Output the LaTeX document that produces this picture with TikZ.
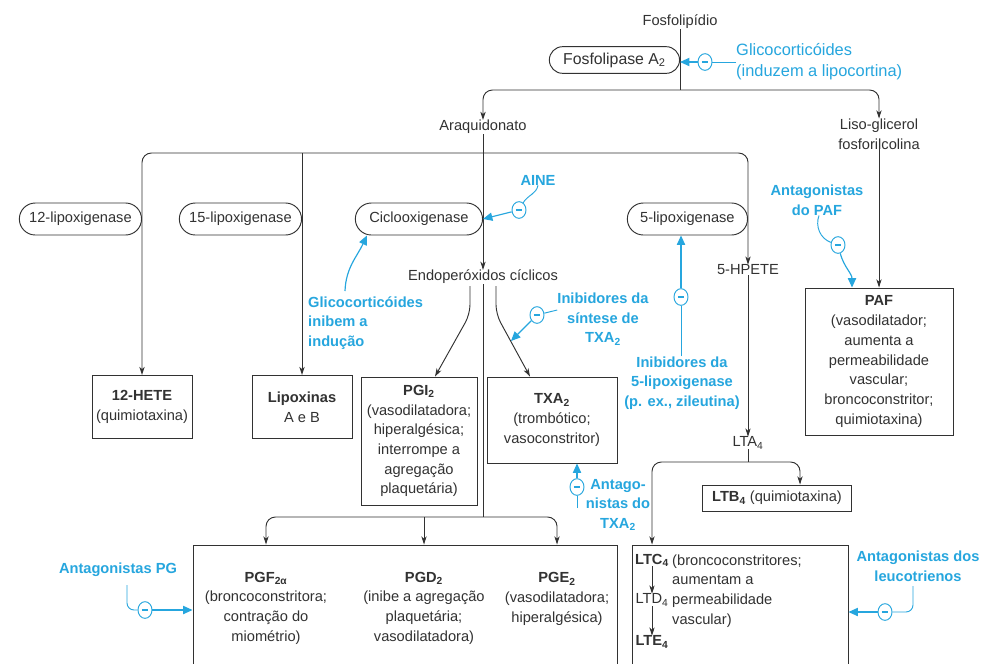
\documentclass[tikz,border=0pt]{standalone}
\usepackage{fontspec}
\setmainfont{Liberation Sans}
\usetikzlibrary{positioning, arrows.meta, calc, shapes.misc, shapes.geometric}
\definecolor{azul}{RGB}{38,166,222}
\definecolor{traco}{RGB}{50,50,50}
\newcommand{\fonte}{\fontsize{12.5}{16.8}\selectfont}

\begin{document}
\begin{tikzpicture}[
  x=0.03cm, y=-0.03cm,
  >={Stealth[length=7pt, width=4.5pt, inset=2pt]},
  txt/.style={font=\fonte, text=traco, inner sep=0pt, align=center},
  enz/.style={rounded rectangle, draw=traco, line width=0.8pt, font=\fonte,
    text=traco, minimum width=3.9cm, minimum height=0.96cm, anchor=east},
  caixa/.style={rectangle, draw=traco, line width=0.8pt, font=\fonte,
    text=traco, align=center, inner sep=0pt},
  lig/.style={->, draw=traco, line width=0.8pt},
  ramo/.style={<->, draw=traco, line width=0.8pt, rounded corners=8},
  fio/.style={draw=azul, line width=0.8pt},
  inibe/.style={-{Triangle[length=8pt, width=7pt]}, draw=azul, line width=1pt},
  azultxt/.style={font=\fonte\bfseries, text=azul, inner sep=0pt, align=center},
  sinal/.style={ellipse, draw=azul, line width=0.8pt, fill=white,
    minimum width=0.42cm, minimum height=0.5cm, inner sep=0pt,
    path picture={\draw[azul, line width=0.9pt]
      ([xshift=-2.6pt]path picture bounding box.center) --
      ([xshift=2.6pt]path picture bounding box.center);}},
]
\useasboundingbox (0,0) rectangle (984,663);
\fill[white] (0,0) rectangle (984,663);
\clip (0,0) rectangle (984,663);

% --- Fosfolipidio ---
\node[txt] (fosfo) at (680,22) {Fosfolipídio};
\node[enz, minimum width=4.14cm, minimum height=0.8cm,
  font=\fontsize{13.5}{16}\selectfont] (fla) at (680,60) {Fosfolipase A\textsubscript{2}};
\coordinate (topo) at (680,90);
\draw[traco, line width=0.8pt] (fosfo.south) -- (topo);

\node[sinal] (s1) at (705,62) {};
\node[txt, text=azul, anchor=west, align=left,
  font=\fontsize{14}{18}\selectfont] (glc) at (736,62)
  {Glicocorticóides\\(induzem a lipocortina)};
\draw[fio] (glc.west) -- (s1);
\draw[inibe] (s1) -- (s1 -| fla.east);

\node[txt] (araq) at (483,127) {Araquidonato};
\node[txt] (liso) at (879,134) {Liso-glicerol\\fosforilcolina};
\draw[ramo] (araq.north) |- (topo) -| (liso.north);

% --- Enzimas ---
\coordinate (ramo1) at (483,153);
\node[enz] (l12) at (142,219) {12-lipoxigenase};
\node[enz] (l15) at (302,219) {15-lipoxigenase};
\node[enz, minimum width=4.05cm] (cox) at (483,219) {Ciclooxigenase};
\node[enz, minimum width=3.84cm] (l5) at (748,219) {5-lipoxigenase};

\node[txt] (endo) at (483,277) {Endoperóxidos cíclicos};
\node[txt] (hpete) at (748,270) {5-HPETE};

\node[caixa, minimum width=3cm, minimum height=1.89cm] (hete) at (142,407)
  {\textbf{12-HETE}\\(quimiotaxina)};
\node[caixa, minimum width=3cm, minimum height=1.89cm] (lipox) at (302,407)
  {\textbf{Lipoxinas}\\A e B};

\draw[ramo] (hete.north) |- (ramo1) -| (hpete.north);
\draw[lig] (lipox.north |- ramo1) -- (lipox.north);
\draw[lig] (araq.south) -- (endo.north);

% AINE
\node[azultxt] (aine) at (538,180) {AINE};
\node[sinal] (s2) at (519,210) {};
\draw[fio] (aine.south) to[out=-100,in=60] (s2);
\draw[inibe] (s2) -- (cox.east);

% glicocorticoides na inducao
\node[azultxt, anchor=west, align=left] (gci) at (308,323)
  {Glicocorticóides\\inibem a\\indução};
\coordinate (gc0) at (345,291);
\draw[inibe] (gc0) to[out=88,in=-115] ($(cox.south)+(-52,0)$);

% --- Endoperoxidos ---
\node[caixa, minimum width=3.48cm, minimum height=3.84cm] (pgi) at (419,441)
  {\textbf{PGI\textsubscript{2}}\\(vasodilatadora;\\hiperalgésica;\\interrompe a\\agregação\\plaquetária)};
\node[caixa, minimum width=3.9cm, minimum height=2.58cm] (txa) at (552,420)
  {\textbf{TXA\textsubscript{2}}\\(trombótico;\\vasoconstritor)};
\draw[lig, rounded corners=8] ($(endo.south)+(-13,2)$) -- ++(0,28) -- ($(pgi.north)+(16,0)$);
\draw[lig, rounded corners=8] ($(endo.south)+(13,2)$) -- ++(0,28) -- ($(txa.north)+(-22,0)$);

\node[azultxt] (ist) at (603,319) {Inibidores da\\síntese de\\TXA\textsubscript{2}};
\node[sinal] (s3) at (537,315) {};
\coordinate (tx0) at (511,341);
\draw[fio] ($(ist.west)+(0,-9)$) -- (s3);
\draw[inibe] (s3) -- (tx0);

% --- 5-lipoxigenase ---
\node[azultxt] (ili) at (682,383) {Inibidores da\\5-lipoxigenase\\(p. ex., zileutina)};
\node[sinal] (s4) at (681,297) {};
\draw[fio] (ili.north -| s4) -- (s4);
\draw[inibe] (s4) -- (s4 |- l5.south);

% --- PAF ---
\node[azultxt] (apaf) at (817,200) {Antagonistas\\do PAF};
\node[sinal] (s5) at (838,245) {};
\node[caixa, minimum width=4.44cm, minimum height=4.41cm] (paf) at (879,361.5)
  {\textbf{PAF}\\(vasodilatador;\\aumenta a\\permeabilidade\\vascular;\\broncoconstritor;\\quimiotaxina)};
\draw[fio] ($(apaf.south)+(2,0)$) to[out=-110,in=160] (s5);
\draw[inibe] (s5) to[out=-75,in=90] ($(paf.north)+(-27,0)$);
\draw[lig] (liso.south) -- (liso.south |- paf.north);

% --- Leucotrienos ---
\node[txt] (lta) at (748,443) {LTA\textsubscript{4}};
\draw[lig] (hpete.south) -- (lta.north);
\node[caixa, minimum width=4.47cm, minimum height=0.78cm] (ltb) at (777,498)
  {\textbf{LTB\textsubscript{4}} (quimiotaxina)};
\node[caixa, minimum width=6.48cm, minimum height=4.65cm] (lbox) at (740,622.5) {};
\node[txt] (ltc4) at (652,560) {\textbf{LTC\textsubscript{4}}};
\node[txt] (ltd4) at (652,600) {LTD\textsubscript{4}};
\node[txt] (lte4) at (652,642) {\textbf{LTE\textsubscript{4}}};
\draw[lig] (ltc4) -- (ltd4);
\draw[lig] (ltd4) -- (lte4);
\node[txt, anchor=west, align=left] (ltdesc) at (672,591)
  {(broncoconstritores;\\aumentam a\\permeabilidade\\vascular)};
\coordinate (ramo3) at (748,462);
\draw[traco, line width=0.8pt] (lta.south) -- (ramo3);
\draw[ramo] (ltc4 |- lbox.north) |- (ramo3) -| ($(ltb.north)+(23,0)$);

\node[azultxt] (alt) at (918,566) {Antagonistas dos\\leucotrienos};
\node[sinal] (s7) at (885,612) {};
\coordinate (lt0) at (913,586);
\draw[fio, rounded corners=6] (lt0) |- (s7);
\draw[inibe] (s7) -- (s7 -| lbox.east);

% --- Prostaglandinas ---
\node[caixa, minimum width=12.72cm, minimum height=4.65cm] (pgbox) at (405,622.5) {};
\node[txt] (pgf) at (266,608)
  {\textbf{PGF\textsubscript{2α}}\\(broncoconstritora;\\contração do\\miométrio)};
\node[txt] (pgd) at (424,608)
  {\textbf{PGD\textsubscript{2}}\\(inibe a agregação\\plaquetária;\\vasodilatadora)};
\node[txt] (pge) at (557,599)
  {\textbf{PGE\textsubscript{2}}\\(vasodilatadora;\\hiperalgésica)};
\coordinate (ramo2) at (483,517);
\draw[traco, line width=0.8pt] (endo.south) -- (ramo2);
\draw[ramo] (pgf |- pgbox.north) |- (ramo2) -| (pge |- pgbox.north);
\draw[lig] (pgd |- ramo2) -- (pgd |- pgbox.north);

\node[sinal] (s6) at (577,487) {};
\node[azultxt] (atx) at (618,505) {Antago-\\nistas do\\TXA\textsubscript{2}};
\coordinate (at0) at (577,508);
\draw[fio] (at0) -- (s6);
\draw[inibe] (s6) -- (s6 |- txa.south);

\node[azultxt] (apg) at (118,570) {Antagonistas PG};
\node[sinal] (s8) at (145,610) {};
\coordinate (pg0) at (127,585);
\draw[fio, rounded corners=6] (pg0) |- (s8);
\draw[inibe] (s8) -- (s8 -| pgbox.west);

\end{tikzpicture}
\end{document}
